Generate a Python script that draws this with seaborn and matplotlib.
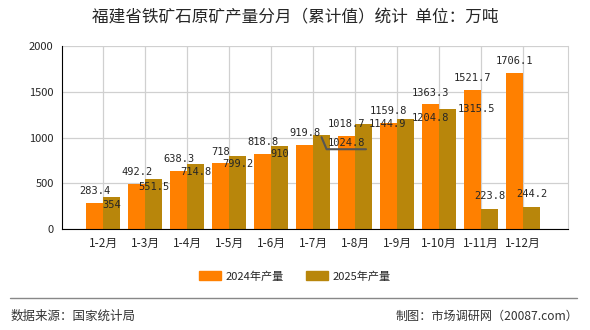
import numpy as np
import pandas as pd
import matplotlib
matplotlib.use("Agg")
import matplotlib.pyplot as plt
from matplotlib.patches import Patch
import seaborn as sns

# data
months = ['1-2月', '1-3月', '1-4月', '1-5月', '1-6月', '1-7月',
          '1-8月', '1-9月', '1-10月', '1-11月', '1-12月']
prod_2024 = [283.4, 492.2, 638.3, 718, 818.8, 919.8, 1018.7, 1159.8, 1363.3, 1521.7, 1706.1]
prod_2025 = [354, 551.5, 714.8, 799.2, 910, 1024.8, 1144.9, 1204.8, 1315.5, 223.8, 244.2]
series = ['2024年产量', '2025年产量']

title = '福建省铁矿石原矿产量分月（累计值）统计  单位：万吨'
source_txt = '数据来源：国家统计局'
maker_txt = '制图：市场调研网（20087.com）'

# label offsets (points) for the 2025 labels, as placed in the original
lab25_dx = [0, 0, 0, 0, 0, 18, 17, 18, 21, 0, 0]
lab25_dy = [-6, -6, -6, -6, -6, -5.5, 0, 1, 0, 9, 9]

COLORS = ['#FF8000', '#B8860B']

sns.set_style('white')
plt.rcParams['font.family'] = ['Noto Sans CJK SC', 'DejaVu Sans']

df = pd.DataFrame({
    'month': months * 2,
    'value': prod_2024 + prod_2025,
    'year': [series[0]] * len(months) + [series[1]] * len(months),
})

fig = plt.figure(figsize=(5.9, 3.3), dpi=100)
ax = fig.add_axes([0.105, 0.306, 0.858, 0.554])

sns.barplot(data=df, x='month', y='value', hue='year', palette=COLORS,
            width=0.8, saturation=1, legend=False, linewidth=0,
            edgecolor='none', ax=ax)

ax.set_xlim(-0.98, 11.07)
ax.set_ylim(0, 2000)
ax.set_yticks([0, 500, 1000, 1500, 2000])
ax.set_xlabel('')
ax.set_ylabel('')

ax.grid(True, color='#d0d0d0', linewidth=0.9)
ax.set_axisbelow(True)
ax.spines['top'].set_visible(False)
ax.spines['right'].set_color('#d0d0d0')
ax.spines['left'].set_color('black')
ax.spines['bottom'].set_color('black')
ax.tick_params(axis='y', length=4, color='black', labelsize=8, pad=2)
ax.tick_params(axis='x', length=0, labelsize=8.5, pad=6)
ax.set_xticks([-0.98, 11.07], minor=True)
ax.tick_params(axis='x', which='minor', length=4, color='black')

# value labels
for i, v in enumerate(prod_2024):
    ax.annotate(f'{v:g}', (i - 0.2, v), xytext=(0, 8.5), textcoords='offset points',
                ha='center', va='center', fontsize=7.5, family='DejaVu Sans Mono')
for i, v in enumerate(prod_2025):
    ax.annotate(f'{v:g}', (i + 0.2, v), xytext=(lab25_dx[i], lab25_dy[i]),
                textcoords='offset points', ha='center', va='center',
                fontsize=7.5, family='DejaVu Sans Mono')

# leader line under the dragged 1-7月 label (offsets in points)
px = np.array([0.0, 3.6, 32.0]) / 72
py = np.array([-1.4, -10.0, -10.0]) / 72
off = ax.transData.transform((5.2, prod_2025[5]))
ax.plot(off[0] / fig.dpi + px, off[1] / fig.dpi + py, color='#555555',
        linewidth=1.5, transform=fig.dpi_scale_trans, clip_on=False)

fig.text(0.5, 0.945, title, ha='center', va='center', fontsize=12)

handles = [Patch(color=c) for c in COLORS]
fig.legend(handles, series, loc='center', bbox_to_anchor=(0.5, 0.163), ncol=2,
           frameon=False, fontsize=8, handlelength=2.0, handleheight=0.9,
           columnspacing=2.0, handletextpad=0.4)

fig.add_artist(plt.Line2D([0.017, 0.978], [0.097, 0.097], color='#888888', linewidth=1))
fig.text(0.017, 0.042, source_txt, ha='left', va='center', fontsize=9, color='#333333')
fig.text(0.98, 0.042, maker_txt, ha='right', va='center', fontsize=8.7, color='#333333')

fig.savefig('out.png', dpi=100)
